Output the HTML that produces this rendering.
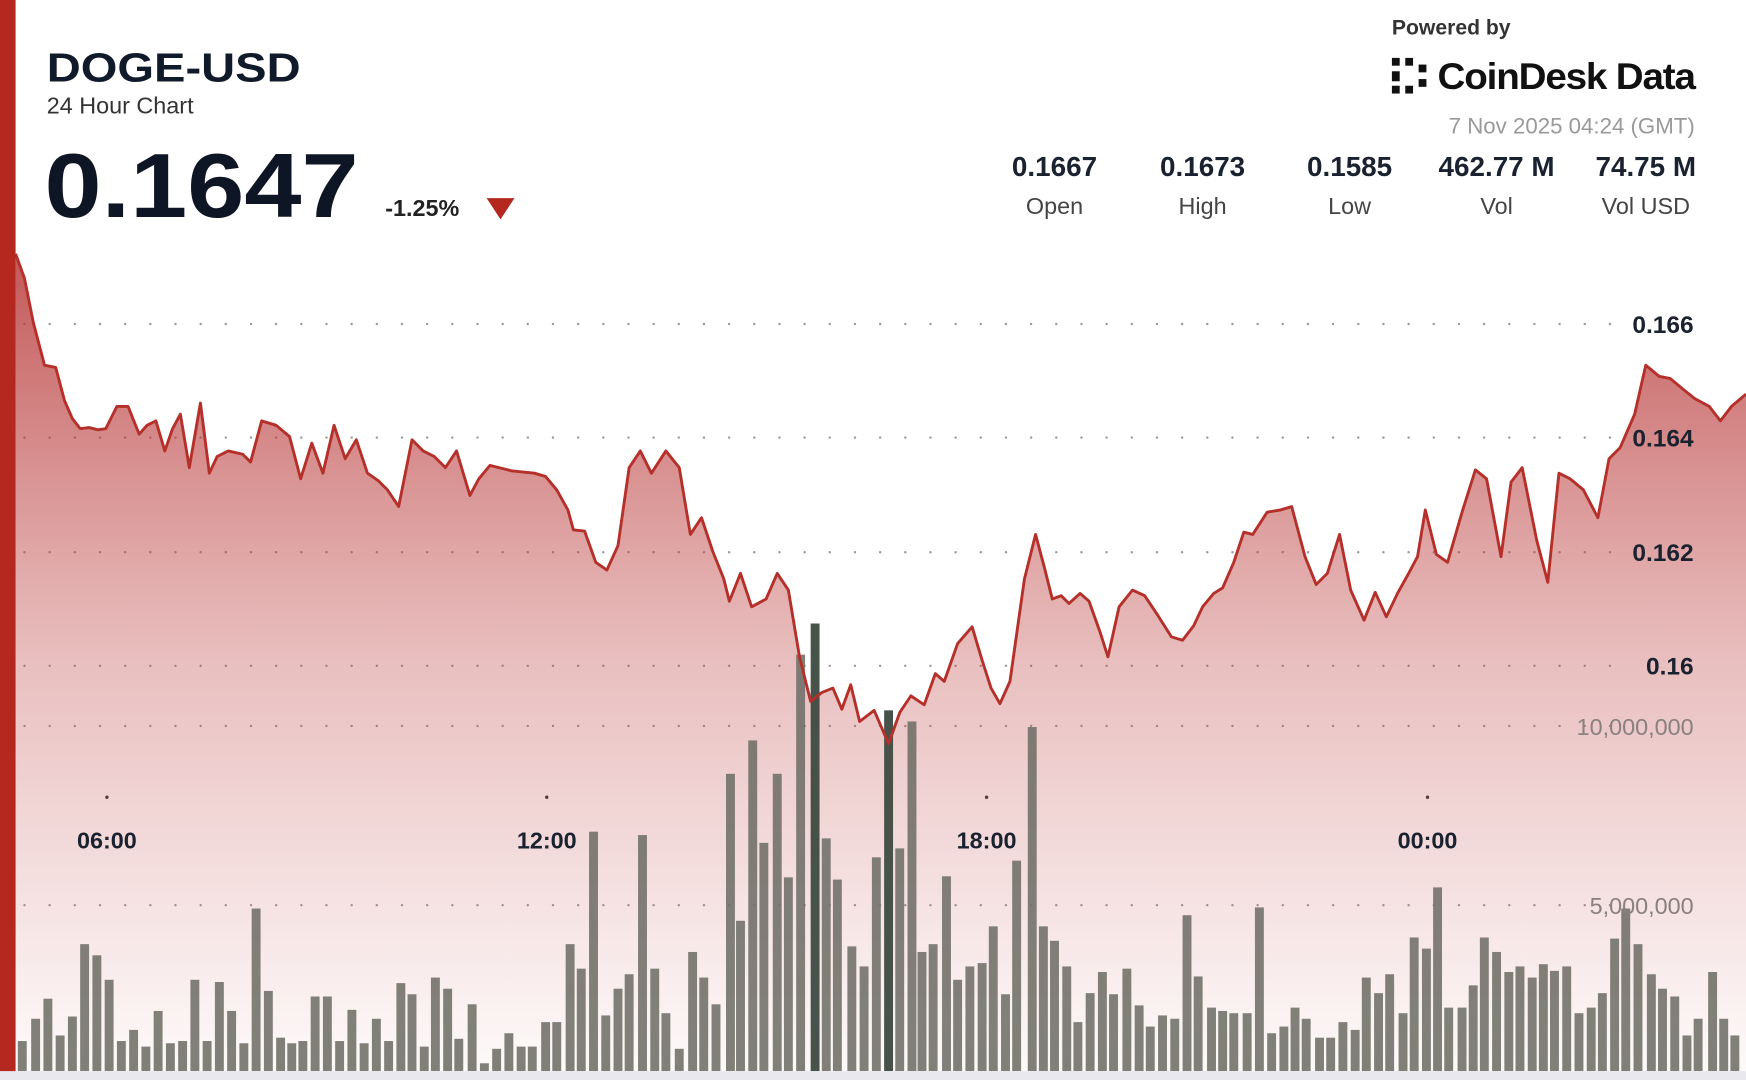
<!DOCTYPE html>
<html><head><meta charset="utf-8"><style>
html,body{margin:0;padding:0;background:#fff;width:1746px;height:1080px;overflow:hidden}
svg{display:block}
text{font-family:"Liberation Sans",sans-serif}
</style></head><body>
<svg id="s" width="1746" height="1080" viewBox="0 0 1568 970" preserveAspectRatio="none" xmlns="http://www.w3.org/2000/svg">
<defs>
<linearGradient id="g" x1="0" y1="228" x2="0" y2="962" gradientUnits="userSpaceOnUse">
<stop offset="0" stop-color="#b42e2e" stop-opacity="0.8"/>
<stop offset="0.5" stop-color="#c04848" stop-opacity="0.35"/>
<stop offset="1" stop-color="#c85050" stop-opacity="0.03"/>
</linearGradient>
</defs>
<rect width="1568" height="970" fill="#fff"/>
<g id="grid" fill="#9a9a9a"></g>
<path id="area" fill="url(#g)"/>
<g id="bars"></g>
<path id="line" fill="none" stroke="#b5302a" stroke-width="2.6" stroke-linejoin="round"/>
<rect x="0" y="0" width="14" height="970" fill="#b5281f"/>
<rect x="0" y="962" width="1568" height="8" fill="#e8e8ee"/>

<text x="42" y="73" font-size="37" font-weight="bold" fill="#111a2a" textLength="228" lengthAdjust="spacingAndGlyphs">DOGE-USD</text>
<text x="42" y="102" font-size="21" fill="#333">24 Hour Chart</text>
<text x="40" y="195" font-size="82" font-weight="bold" fill="#0e1626" textLength="282" lengthAdjust="spacingAndGlyphs">0.1647</text>
<text x="346" y="194" font-size="21" font-weight="bold" fill="#222">-1.25%</text>
<path d="M437 178 L462 178 L449.5 197 Z" fill="#b5281f"/>

<text x="1250" y="31" font-size="19" font-weight="bold" fill="#333">Powered by</text>
<g fill="#111">
<rect x="1250" y="52" width="7" height="7"/><rect x="1262" y="52" width="7" height="7"/><rect x="1274" y="58" width="7" height="7"/>
<rect x="1250" y="64" width="7" height="9"/><rect x="1250" y="77" width="7" height="7"/><rect x="1262" y="77" width="7" height="7"/><rect x="1274" y="71" width="7" height="7"/>
</g>
<text x="1291" y="80" font-size="33" font-weight="bold" fill="#111" textLength="231" lengthAdjust="spacingAndGlyphs" letter-spacing="-1">CoinDesk Data</text>
<text x="1522" y="120" font-size="20" fill="#999" text-anchor="end">7 Nov 2025 04:24 (GMT)</text>
<g font-size="25" font-weight="bold" fill="#1a2230" text-anchor="middle">
<text x="947" y="158">0.1667</text><text x="1080" y="158">0.1673</text><text x="1212" y="158">0.1585</text><text x="1344" y="158">462.77 M</text><text x="1478" y="158">74.75 M</text>
</g>
<g font-size="21" fill="#444" text-anchor="middle">
<text x="947" y="192">Open</text><text x="1080" y="192">High</text><text x="1212" y="192">Low</text><text x="1344" y="192">Vol</text><text x="1478" y="192">Vol USD</text>
</g>
<g font-size="22" font-weight="bold" fill="#1a2230" text-anchor="end">
<text x="1521" y="299">0.166</text><text x="1521" y="401">0.164</text><text x="1521" y="504">0.162</text><text x="1521" y="606">0.16</text>
</g>
<g font-size="21" fill="#8a8080" text-anchor="end">
<text x="1521" y="660">10,000,000</text><text x="1521" y="821">5,000,000</text>
</g>
<g font-size="21" font-weight="bold" fill="#1a2230" text-anchor="middle">
<text x="96" y="762">06:00</text><text x="491" y="762">12:00</text><text x="886" y="762">18:00</text><text x="1282" y="762">00:00</text>
</g>
</svg>
<script>
var P=[[14,228],[22,250],[30,290],[40,328],[50,330],[58,360],[65,376],[72,385],[80,384],[88,386],[95,385],[105,365],[115,365],[125,390],[132,382],[140,378],[148,405],[155,385],[162,372],[170,420],[180,362],[188,425],[195,410],[205,405],[218,408],[225,415],[235,378],[248,382],[260,392],[270,430],[280,398],[290,425],[300,382],[310,412],[320,395],[330,425],[340,432],[348,440],[358,455],[370,395],[380,405],[390,410],[400,420],[410,405],[422,445],[430,430],[440,418],[448,420],[460,423],[470,424],[480,425],[490,428],[500,440],[510,458],[515,476],[525,477],[535,505],[545,512],[555,490],[565,420],[575,405],[585,425],[598,405],[610,420],[620,480],[630,465],[640,495],[650,520],[655,540],[665,515],[675,545],[688,538],[698,515],[708,530],[718,590],[728,630],[738,622],[748,618],[756,637],[764,615],[772,648],[785,638],[798,668],[808,640],[818,625],[830,633],[840,605],[848,612],[860,578],[873,563],[882,593],[890,618],[898,632],[907,612],[920,520],[930,480],[938,510],[945,538],[953,535],[960,542],[970,533],[978,540],[988,568],[995,590],[1005,545],[1017,530],[1028,535],[1040,553],[1052,572],[1062,575],[1072,562],[1080,545],[1090,533],[1098,528],[1108,505],[1117,478],[1125,480],[1138,460],[1150,458],[1160,455],[1172,500],[1182,525],[1192,515],[1203,480],[1213,530],[1225,557],[1235,532],[1245,554],[1255,533],[1265,515],[1273,500],[1280,458],[1290,498],[1300,505],[1313,460],[1325,422],[1335,430],[1348,500],[1357,433],[1367,420],[1380,485],[1390,523],[1400,425],[1410,430],[1422,440],[1435,465],[1445,412],[1455,402],[1468,372],[1478,328],[1490,338],[1500,340],[1512,350],[1522,358],[1535,365],[1545,378],[1555,365],[1568,354]];
var d="M"+P.map(function(p){return p[0]+" "+p[1]}).join(" L");
document.getElementById("line").setAttribute("d",d);
document.getElementById("area").setAttribute("d",d+" L1568 962 L14 962 Z");
var B=[[20,935],[32,915],[43,897],[54,930],[65,913],[76,848],[87,858],[98,880],[109,935],[120,925],[131,940],[142,908],[153,937],[164,935],[175,880],[186,935],[197,882],[208,908],[219,937],[230,816],[241,890],[252,932],[262,937],[272,935],[283,895],[294,895],[305,935],[316,907],[327,937],[338,915],[349,935],[360,883],[370,893],[381,940],[391,878],[402,888],[412,933],[424,902],[435,955],[446,942],[457,928],[468,940],[478,940],[490,918],[500,918],[512,848],[522,870],[533,747],[544,912],[555,888],[565,875],[577,750],[588,870],[598,910],[610,942],[622,855],[632,878],[643,902],[656,695],[665,827],[676,665],[686,757],[698,695],[708,788],[719,588],[732,560],[742,753],[752,790],[765,850],[776,868],[787,770],[798,638],[808,762],[819,648],[828,855],[838,848],[850,787],[860,880],[871,868],[882,865],[892,832],[903,893],[913,773],[927,653],[937,832],[947,845],[958,868],[968,918],[979,892],[990,873],[1000,893],[1012,870],[1023,903],[1033,922],[1044,912],[1055,915],[1066,822],[1076,877],[1088,905],[1098,908],[1108,910],[1120,910],[1131,815],[1142,928],[1153,922],[1163,905],[1173,915],[1185,932],[1195,932],[1206,918],[1217,925],[1227,878],[1238,892],[1248,875],[1260,910],[1270,842],[1281,852],[1291,797],[1301,905],[1313,905],[1323,885],[1333,842],[1344,855],[1355,873],[1365,868],[1376,878],[1386,866],[1396,872],[1407,868],[1418,910],[1429,905],[1439,892],[1450,843],[1460,816],[1471,848],[1483,875],[1493,888],[1504,895],[1515,930],[1525,915],[1538,873],[1548,915],[1558,930]];
var ns="http://www.w3.org/2000/svg",g=document.getElementById("bars");
B.forEach(function(b){var r=document.createElementNS(ns,"rect");r.setAttribute("x",b[0]-4);r.setAttribute("y",b[1]);r.setAttribute("width",8);r.setAttribute("height",962-b[1]);var dark=(b[0]==732||b[0]==798);r.setAttribute("fill",dark?"#3d4a40":"#6e6e66");r.setAttribute("fill-opacity",dark?"0.95":"0.88");g.appendChild(r);});
var gr=document.getElementById("grid");
[291,393,496,598,652,813].forEach(function(y){for(var x=22;x<1460;x+=22.6){var c=document.createElementNS(ns,"circle");c.setAttribute("cx",x);c.setAttribute("cy",y);c.setAttribute("r",1.1);gr.appendChild(c);}});
[96,491,886,1282].forEach(function(x){var c=document.createElementNS(ns,"circle");c.setAttribute("cx",x);c.setAttribute("cy",716);c.setAttribute("r",1.5);c.setAttribute("fill","#333");gr.appendChild(c);});
</script>
</body></html>
